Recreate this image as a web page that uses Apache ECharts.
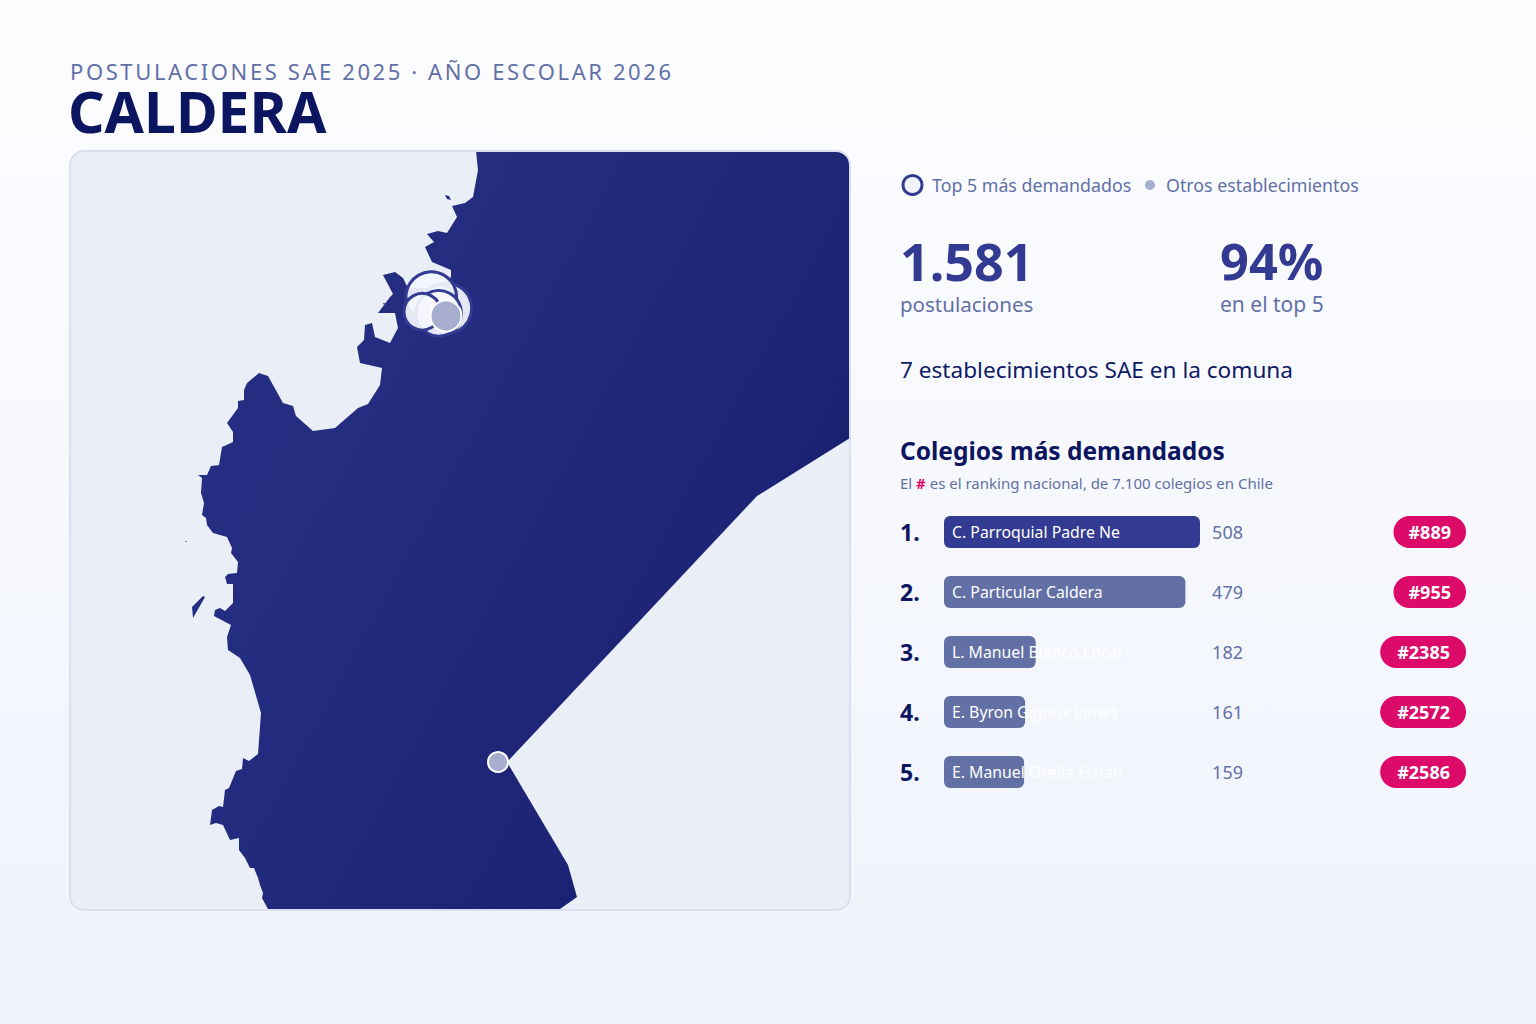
<!DOCTYPE html>
<html>
<head>
	<meta charset="UTF-8">
	<script src="https://cdn.jsdelivr.net/npm/echarts@6/dist/echarts.min.js"></script>
	<title>Caldera</title>
	<style>html,body{margin:0;padding:0;}</style>
</head>
<body>
	<div id="main" style="height:1024px;width:1536px;"></div>
	<script type="text/javascript">
        var FONT = '"Noto Sans", sans-serif';
        var subtitleText = 'POSTULACIONES SAE 2025 · AÑO ESCOLAR 2026';
        var schoolNames = ['C. Parroquial Padre Ne', 'C. Particular Caldera', 'L. Manuel Blanco Encal', 'E. Byron Gigoux James', 'E. Manuel Orella Echan'];
        var schoolApps = [508, 479, 182, 161, 159];
        var rankLabels = ['1.', '2.', '3.', '4.', '5.'];
        var nationalRanks = ['#889', '#955', '#2385', '#2572', '#2586'];

        // sitios: x, y (unidades del mapa), radio
        var topSites = [[446.7, 308.3, 25], [440, 302, 17], [431.3, 297, 25.3], [438.7, 313.3, 22.8], [422.3, 311.7, 18.3]];
        var otherSites = [[446, 316, 15.5], [498, 762, 10]];

        // contorno de la comuna, en unidades del mapa
        var mainland = [[476,151],[836,151],[843,153],[848,158],[850,165],[850,438],[757,496],[507,762],[568,865],[577,897],[560,909],
            [268,909],[262,898],[263,893],[260,885],[258,878],[254,868],[250,868],[245,858],[239,850],[239,838],[230,840],[223,825],[216,823],
            [210,825],[211,818],[212,810],[219,806],[223,807],[225,790],[229,788],[236,771],[242,769],[243,758],[249,761],[258,754],[261,713],
            [250,675],[240,658],[228,650],[227,637],[231,625],[214,616],[215,610],[220,608],[225,611],[233,603],[233,584],[227,584],[225,577],
            [228,574],[237,573],[238,562],[231,553],[232,548],[227,537],[213,533],[207,525],[206,518],[202,515],[204,503],[201,493],[202,478],
            [198,475],[207,475],[211,466],[219,465],[222,447],[233,442],[233,432],[227,423],[238,408],[238,401],[244,400],[244,390],[247,383],
            [259,373],[268,376],[283,403],[293,406],[296,416],[313,431],[335,428],[358,408],[368,404],[380,385],[382,368],[360,363],[357,347],
            [364,340],[365,325],[372,323],[375,337],[390,343],[398,328],[395,313],[378,313],[390,297],[393,294],[383,275],[395,272],[403,278],
            [408,288],[440,288],[451,277],[451,270],[432,262],[425,247],[434,242],[427,234],[438,231],[447,233],[457,217],[452,206],[465,203],
            [473,197],[478,170]];
        var islands = [
            [[192,607],[203,596],[205,597],[193,618]],
            [[445,195],[449,196],[451,200],[447,199]],
            [[383,303],[385,303],[384,305]],
            [[185,541],[187,541],[186,542]]
        ];

        function ring(points) {
            var r = points.map(function (p) { return [p[0], -p[1]]; });
            r.push(r[0]);
            return [r];
        }
        echarts.registerMap('caldera', {
            type: 'FeatureCollection',
            features: [{
                type: 'Feature',
                properties: { name: 'Caldera' },
                geometry: { type: 'MultiPolygon', coordinates: [ring(mainland)].concat(islands.map(ring)) }
            }]
        });

        var myChart = echarts.init(document.getElementById('main'), null, { renderer: 'svg' });

        function sitePoint(s) { return [s[0], -s[1], s[2]]; }
        function siteSize(v) { return v[2] * 2; }
        function textEl(x, y, text, size, color, weight) {
            return {
                type: 'text', x: x, y: y, z: 20, silent: true,
                style: { text: text, fontFamily: FONT, fontSize: size, fill: color, fontWeight: weight || 400, textVerticalAlign: 'middle' }
            };
        }
        var pillBase = {
            fontFamily: FONT, fontSize: 18, fontWeight: 700, color: '#fff', backgroundColor: '#dc0a68',
            borderRadius: 16, height: 32, lineHeight: 33
        };

        var option = {
            animation: false,
            backgroundColor: new echarts.graphic.LinearGradient(0, 0, 0, 1, [
                { offset: 0, color: '#fdfdff' },
                { offset: 1, color: '#eff3fb' }
            ]),
            legend: [
                {
                    data: ['Top 5 más demandados'], left: 896.5, top: 169, itemWidth: 19, itemHeight: 19, icon: 'circle',
                    itemStyle: { color: '#f0f3fb', borderColor: '#333a91', borderWidth: 3 },
                    textStyle: { fontFamily: FONT, fontSize: 17.8, color: '#6270a6', padding: [0, 0, 0, 5] }
                },
                {
                    data: ['Otros establecimientos'], left: 1140, top: 171, itemWidth: 10, itemHeight: 19, icon: 'circle',
                    itemStyle: { color: '#a7aed0', borderWidth: 0 },
                    textStyle: { fontFamily: FONT, fontSize: 17.8, color: '#6270a6', padding: [0, 0, 0, 6] }
                }
            ],
            geo: {
                map: 'caldera',
                silent: true,
                roam: false,
                aspectScale: 1,
                boundingCoords: [[70, -151], [850, -910]],
                left: 70, top: 151, width: 780, height: 759,
                label: { show: false },
                itemStyle: {
                    areaColor: new echarts.graphic.LinearGradient(338, 184, 839, 456, [
                        { offset: 0, color: '#262e83' },
                        { offset: 0.4, color: '#232b7e' },
                        { offset: 0.68, color: '#1f2678' },
                        { offset: 0.88, color: '#1e2577' },
                        { offset: 1, color: '#1a2070' }
                    ], true),
                    borderWidth: 0
                }
            },
            grid: { left: 944, top: 502, width: 256, height: 300 },
            xAxis: { type: 'value', min: 0, max: 508, show: false },
            yAxis: [
                {
                    type: 'category', inverse: true, data: rankLabels,
                    axisLine: { show: false }, axisTick: { show: false },
                    axisLabel: { interval: 0, align: 'left', margin: 44, fontFamily: FONT, fontSize: 23, fontWeight: 700, color: '#0b1560' }
                },
                {
                    type: 'category', inverse: true, position: 'right', data: schoolApps.map(String),
                    axisLine: { show: false }, axisTick: { show: false },
                    axisLabel: { interval: 0, align: 'right', margin: 43, fontFamily: FONT, fontSize: 18, color: '#6270a6' }
                },
                {
                    type: 'category', inverse: true, position: 'right', data: nationalRanks,
                    axisLine: { show: false }, axisTick: { show: false },
                    axisLabel: {
                        interval: 0, align: 'right', margin: 266,
                        formatter: function (v) { return (v.length > 4 ? '{q|' : '{p|') + v + '}'; },
                        rich: {
                            p: Object.assign({ padding: [0, 15, 0, 15] }, pillBase),
                            q: Object.assign({ padding: [0, 16, 0, 17] }, pillBase)
                        }
                    }
                }
            ],
            series: [
                {
                    name: 'Top 5 más demandados',
                    type: 'scatter', coordinateSystem: 'geo', silent: true, z: 5,
                    data: topSites.map(sitePoint),
                    symbolSize: siteSize,
                    itemStyle: { color: 'rgba(244,246,253,0.93)', borderColor: '#333a91', borderWidth: 3, opacity: 1 }
                },
                {
                    name: 'Otros establecimientos',
                    type: 'scatter', coordinateSystem: 'geo', silent: true, z: 6,
                    data: otherSites.map(sitePoint),
                    symbolSize: siteSize,
                    itemStyle: { color: '#a7aed0', borderColor: '#fff', borderWidth: 2, opacity: 1 }
                },
                {
                    name: 'Postulaciones',
                    type: 'bar', xAxisIndex: 0, yAxisIndex: 0, silent: true,
                    data: schoolApps,
                    barWidth: 32,
                    itemStyle: {
                        borderRadius: 6,
                        color: function (p) { return p.dataIndex === 0 ? '#333a91' : '#6270a6'; }
                    },
                    label: {
                        show: true, position: 'insideLeft', distance: 8,
                        fontFamily: FONT, fontSize: 15.8, color: '#fff',
                        formatter: function (p) { return schoolNames[p.dataIndex]; }
                    }
                }
            ],
            graphic: [
                { type: 'rect', z: -10, silent: true, shape: { x: 70, y: 151, width: 780, height: 759, r: 14 }, style: { fill: '#e9eef7' } },
                { type: 'rect', z: 10, silent: true, shape: { x: 70, y: 151, width: 780, height: 759, r: 14 }, style: { fill: 'none', stroke: '#d9dfee', lineWidth: 2 } },
                textEl(70, 70.5, subtitleText, 22, '#6270a6'),
                textEl(68, 110.5, 'CALDERA', 57, '#0b1560', 700),
                textEl(900, 260, '1.581', 52, '#333a91', 700),
                textEl(1220, 260, '94%', 50.5, '#333a91', 700),
                textEl(900, 304, 'postulaciones', 20.5, '#6270a6'),
                textEl(1220, 304, 'en el top 5', 21, '#6270a6'),
                textEl(900, 369.5, '7 establecimientos SAE en la comuna', 22.6, '#0f1a66'),
                textEl(900, 450, 'Colegios más demandados', 24.5, '#0b1560', 700),
                {
                    type: 'text', x: 900, y: 483, z: 20, silent: true,
                    style: {
                        text: '{a|El }{b|#}{a| es el ranking nacional, de 7.100 colegios en Chile}',
                        textVerticalAlign: 'middle',
                        rich: {
                            a: { fontFamily: FONT, fontSize: 15, fill: '#6270a6', color: '#6270a6' },
                            b: { fontFamily: FONT, fontSize: 15, fontWeight: 700, fill: '#dc0a68', color: '#dc0a68' }
                        }
                    }
                }
            ]
        };
        myChart.setOption(option);

        // ECharts no tiene letterSpacing: se aplica al texto svg ya dibujado
        document.querySelectorAll('#main svg text').forEach(function (t) {
            if (t.textContent === subtitleText) {
                t.setAttribute('letter-spacing', '2.6');
            }
        });
	</script>
</body>
</html>
